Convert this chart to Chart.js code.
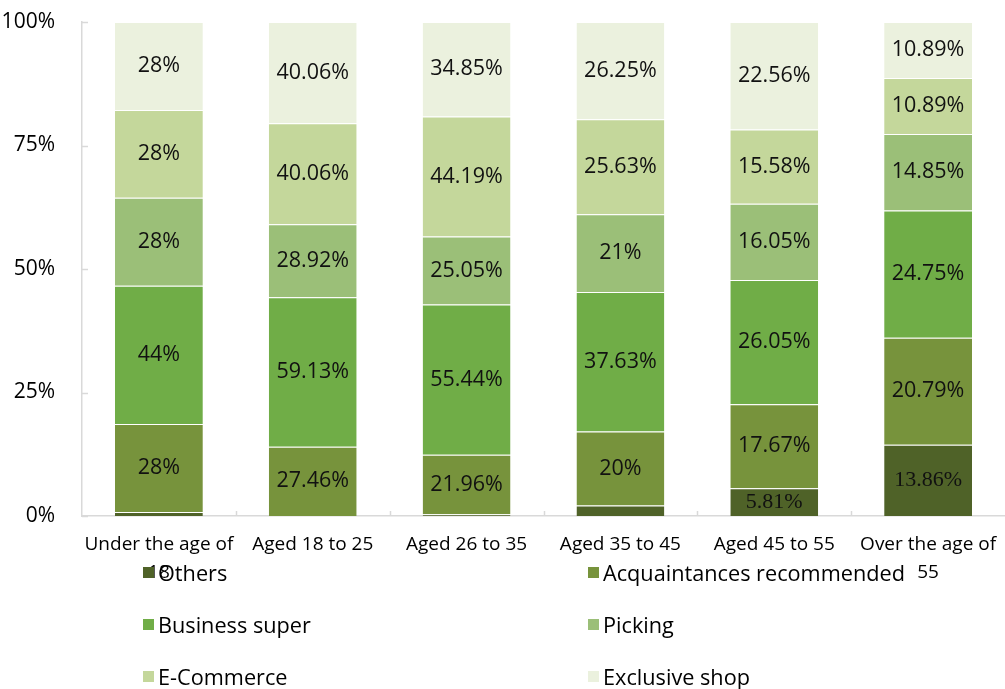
<!DOCTYPE html>
<html lang="en">
  <head>
    <meta charset="UTF-8" />
    <title>channel share by age</title>
    <script src="https://cdn.jsdelivr.net/npm/chart.js@4"></script>
    <style>
      body { margin: 0; background: #fff; }
      .wrap { position: relative; width: 1005px; height: 689px; }
      .legend {
        position: absolute; left: 143px; top: 546px; width: 850px;
        display: grid; grid-template-columns: 445px 405px; grid-auto-rows: 52px;
        font-family: "Open Sans", sans-serif; font-size: 21.7px; color: #000;
      }
      .legend div { display: flex; align-items: center; }
      .legend span { display: inline-block; width: 11px; height: 11px; margin-right: 4px; }
    </style>
  </head>
  <body>
    <div class="wrap">
      <canvas id="myChart" width="1005" height="689"></canvas>
      <div class="legend" id="legend"></div>
    </div>

    <script>
      const categories = ["Under the age of 18", "Aged 18 to 25", "Aged 26 to 35", "Aged 35 to 45", "Aged 45 to 55", "Over the age of 55"];

      // raw values per channel (labels show these, bars are share of group total)
      const others = [1.3, 0, 0.6, 2.8, 5.81, 13.86];
      const acquaintances = [28, 27.46, 21.96, 20, 17.67, 20.79];
      const businessSuper = [44, 59.13, 55.44, 37.63, 26.05, 24.75];
      const picking = [28, 28.92, 25.05, 21, 16.05, 14.85];
      const eCommerce = [28, 40.06, 44.19, 25.63, 15.58, 10.89];
      const exclusiveShop = [28, 40.06, 34.85, 26.25, 22.56, 10.89];

      const yTicks = [0, 25, 50, 75, 100];

      const series = [
        { label: "Others", values: others, color: "#4f6228" },
        { label: "Acquaintances recommended", values: acquaintances, color: "#77933c" },
        { label: "Business super", values: businessSuper, color: "#70ad47" },
        { label: "Picking", values: picking, color: "#9bbf78" },
        { label: "E-Commerce", values: eCommerce, color: "#c4d79b" },
        { label: "Exclusive shop", values: exclusiveShop, color: "#ebf1de" },
      ];

      const totals = categories.map((c, i) =>
        series.reduce((s, d) => s + d.values[i], 0)
      );

      const datasets = series.map((d) => ({
        label: d.label,
        data: d.values.map((v, i) => (v / totals[i]) * 100),
        raw: d.values,
        backgroundColor: d.color,
        borderColor: "rgba(255,255,255,0.55)",
        borderWidth: { top: 1, left: 0, right: 0, bottom: 0 },
        borderSkipped: false,
        categoryPercentage: 1,
        barPercentage: 0.571,
      }));

      //value labels inside segments
      const segmentLabels = {
        id: "segmentLabels",
        afterDatasetsDraw(chart) {
          const c = chart.ctx;
          c.save();
          c.textAlign = "center";
          c.textBaseline = "middle";
          c.fillStyle = "#111";
          chart.data.datasets.forEach((ds, di) => {
            const meta = chart.getDatasetMeta(di);
            c.font = di === 0 ? '22px "Liberation Serif"' : '21.5px "Open Sans"';
            meta.data.forEach((bar, i) => {
              const h = Math.abs(bar.base - bar.y);
              if (ds.raw[i] <= 0 || h < 20) return;
              c.fillText(ds.raw[i] + "%", bar.x, (bar.y + bar.base) / 2);
            });
          });
          c.restore();
        },
      };

      //small tick marks pointing into the plot
      const innerTicks = {
        id: "innerTicks",
        afterDraw(chart) {
          const c = chart.ctx;
          const x = chart.scales.x;
          const y = chart.scales.y;
          const area = chart.chartArea;
          c.save();
          c.strokeStyle = "#d9d9d9";
          c.lineWidth = 1.5;
          c.beginPath();
          yTicks.forEach((t) => {
            const py = Math.round(y.getPixelForValue(t)) + 0.5;
            c.moveTo(area.left, py);
            c.lineTo(area.left + 6, py);
          });
          for (let i = 1; i < categories.length; i++) {
            const px = Math.round((x.getPixelForTick(i - 1) + x.getPixelForTick(i)) / 2) + 0.5;
            c.moveTo(px, area.bottom);
            c.lineTo(px, area.bottom - 5);
          }
          c.stroke();
          c.restore();
        },
      };

      const config = {
        type: "bar",
        data: { labels: categories, datasets: datasets },
        options: {
          responsive: false,
          animation: false,
          layout: { padding: { top: 22, right: 0, left: 0, bottom: 0 } },
          plugins: {
            legend: { display: false },
            tooltip: { enabled: false },
          },
          scales: {
            x: {
              stacked: true,
              grid: { display: false },
              border: { display: true, color: "#d9d9d9", width: 1.5 },
              ticks: {
                color: "#000",
                padding: 7,
                autoSkip: false,
                maxRotation: 0,
                font: { family: "Open Sans", size: 19, lineHeight: 1.45 },
                callback: function (v) {
                  const s = this.getLabelForValue(v);
                  if (s.length <= 15) return s;
                  const k = s.lastIndexOf(" ");
                  return [s.slice(0, k), s.slice(k + 1)];
                },
              },
              afterFit: (s) => { s.height = 173; },
            },
            y: {
              stacked: true,
              min: 0,
              max: 100,
              afterBuildTicks: (s) => { s.ticks = yTicks.map((v) => ({ value: v })); },
              grid: { display: false },
              border: { display: true, color: "#d9d9d9", width: 1.5 },
              ticks: {
                color: "#000",
                padding: 19,
                font: { family: "Open Sans", size: 21 },
                callback: (v) => v + "%",
              },
              afterFit: (s) => {
                s.width = 82;
                s.paddingTop = 0;
                s.paddingBottom = 0;
              },
            },
          },
        },
        plugins: [segmentLabels, innerTicks],
      };

      const ctx = document.getElementById("myChart").getContext("2d");
      const myChart = new Chart(ctx, config);

      // legend in two columns
      const legendEl = document.getElementById("legend");
      myChart.data.datasets.forEach((ds) => {
        const item = document.createElement("div");
        item.innerHTML = '<span style="background:' + ds.backgroundColor + '"></span>' + ds.label;
        legendEl.appendChild(item);
      });
    </script>
  </body>
</html>
